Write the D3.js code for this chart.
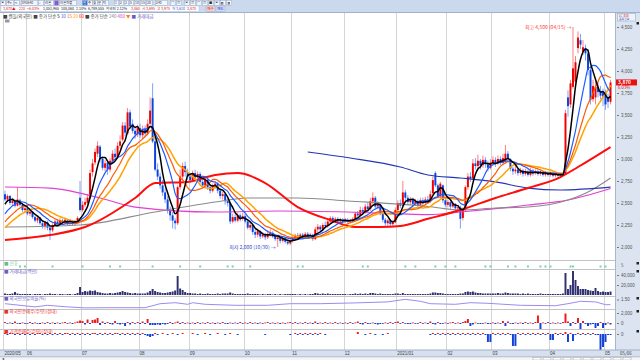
<!DOCTYPE html>
<html>
<head>
<meta charset="utf-8">
<script src="https://cdn.jsdelivr.net/npm/d3@7"></script>
<style>
  body { margin: 0; background: #fff; }
  svg { display: block; font-family: "Noto Sans CJK KR", "Noto Sans", sans-serif; }
</style>
</head>
<body>
<svg id="chart" width="640" height="360"></svg>
<script>
// daily chart 2020/05 ~ 2021/05, one row per month in every array

const monthLabels = ["2020/05", "06", "07", "08", "09", "10", "11", "12", "2021/01", "02", "03", "04", "05"];
const monthDays = [9, 22, 23, 20, 22, 19, 21, 21, 20, 18, 23, 22, 3];

const opens = [
  2600,2540,2580,2500,2520,2470,2530,2480,2420,
  2440,2380,2400,2340,2300,2330,2270,2240,2280,2220,2190,2250,2290,2260,2300,2280,2310,2270,2300,2260,2290,2560,
  2420,2480,2500,2560,2850,2960,3060,3140,3000,2900,2960,2880,2980,3060,3020,3150,3220,3380,3290,3530,3400,3320,3280,
  3350,3270,3340,3290,3400,3690,3200,2880,2800,2700,2620,2540,2420,2360,2300,2270,2680,2800,2920,2850,
  2800,2760,2840,2790,2830,2740,2700,2760,2680,2640,2690,2720,2640,2580,2600,2520,2500,2290,2340,2300,2360,2320,
  2350,2290,2220,2250,2170,2140,2180,2120,2140,2110,2150,2160,2120,2090,2110,2070,2100,2060,2040,
  2070,2100,2130,2100,2140,2110,2150,2120,2140,2090,2200,2230,2200,2250,2240,2290,2330,2300,2320,2290,2310,
  2290,2310,2290,2300,2320,2380,2360,2420,2400,2460,2430,2520,2560,2460,2480,2380,2310,2270,2300,2260,2280,
  2420,2500,2470,2620,2560,2510,2540,2490,2520,2480,2530,2500,2540,2520,2610,2840,2700,2580,2700,2530,
  2480,2510,2460,2490,2440,2450,2330,2420,2680,2800,2780,2950,2920,2980,2930,2990,2940,2900,
  2960,2990,2950,3000,2960,2970,3060,3000,2890,2860,2880,2840,2870,2830,2860,2820,2870,2840,2860,2830,2850,2820,2840,
  2820,2840,2810,2830,2810,2820,2830,3700,3620,3820,3880,4260,4350,4220,4260,4200,4010,3680,3700,3820,3770,3760,
  3760,3700,3650
];
const highs = [
  2640,2600,2590,2560,2540,2680,2550,2500,2470,
  2460,2430,2410,2360,2360,2340,2290,2300,2300,2240,2270,2310,2320,2330,2320,2330,2320,2320,2310,2310,2350,2750,
  2520,2560,2600,2880,3000,3120,3200,3160,3030,2990,2980,3010,3100,3120,3190,3270,3420,3420,3580,3560,3450,3360,3390,
  3400,3380,3380,3450,3700,3860,3230,2950,2840,2760,2660,2580,2460,2400,2330,2700,2880,2960,2970,2890,
  2830,2870,2880,2860,2850,2770,2790,2780,2710,2720,2750,2740,2670,2630,2620,2560,2520,2380,2370,2390,2380,2390,
  2370,2310,2280,2260,2200,2210,2190,2170,2160,2190,2200,2180,2140,2130,2120,2120,2110,2080,2090,
  2130,2150,2160,2160,2160,2170,2170,2160,2150,2230,2260,2250,2270,2290,2320,2350,2350,2340,2340,2330,2330,
  2330,2330,2320,2340,2400,2410,2460,2450,2490,2500,2560,2620,2580,2520,2490,2400,2330,2320,2320,2310,2450,
  2530,2540,2750,2650,2590,2570,2560,2550,2540,2560,2560,2570,2580,2640,2800,2860,2720,2740,2710,2560,
  2540,2530,2520,2500,2480,2470,2450,2700,2840,2850,3000,3010,3050,3000,3040,3020,2980,3000,
  3030,3020,3040,3030,3060,3160,3090,3010,2910,2920,2900,2900,2890,2890,2880,2900,2890,2880,2880,2870,2870,2860,2860,
  2860,2860,2850,2850,2840,2850,3560,3780,3900,4500,4170,4450,4420,4350,4300,4250,4050,3900,3880,3870,3830,3800,
  3790,3740,3900
];
const lows = [
  2520,2510,2480,2470,2450,2460,2460,2400,2390,
  2360,2350,2320,2280,2270,2250,2210,2200,2190,2080,2170,2230,2240,2250,2260,2260,2250,2250,2240,2240,2270,2400,
  2400,2450,2470,2540,2800,2930,3020,2960,2870,2860,2820,2850,2950,2990,3000,3120,3200,3260,3280,3340,3290,3230,3250,
  3240,3230,3250,3270,3380,3180,2860,2760,2660,2580,2500,2380,2300,2210,2200,2250,2650,2760,2800,2760,
  2730,2740,2770,2760,2720,2670,2680,2650,2610,2620,2660,2610,2550,2540,2480,2460,2260,2270,2280,2280,2290,2300,
  2270,2200,2190,2140,2100,2110,2090,2100,2080,2090,2120,2100,2070,2000,2040,2050,2040,2020,2020,
  2050,2080,2080,2090,2090,2100,2100,2100,2070,2080,2170,2180,2180,2210,2220,2270,2270,2280,2270,2280,2270,
  2270,2270,2270,2280,2300,2340,2340,2370,2380,2400,2410,2490,2440,2430,2360,2280,2240,2240,2230,2240,2270,
  2400,2440,2450,2520,2480,2480,2460,2470,2450,2460,2470,2480,2490,2500,2590,2680,2560,2550,2500,2450,
  2450,2430,2440,2410,2400,2210,2300,2400,2650,2740,2760,2880,2890,2880,2900,2900,2860,2880,
  2930,2910,2930,2930,2940,2950,2970,2860,2820,2830,2810,2820,2800,2810,2800,2800,2810,2820,2810,2810,2800,2800,2800,
  2800,2790,2790,2790,2790,2800,2820,3480,3580,3800,3850,4200,4250,4180,4120,3950,3620,3650,3620,3700,3680,3600,
  3560,3580,3620
];
const closes = [
  2540,2580,2500,2530,2470,2540,2480,2420,2440,
  2380,2400,2340,2300,2330,2270,2240,2280,2220,2190,2250,2290,2260,2300,2280,2310,2270,2300,2260,2290,2330,2420,
  2480,2510,2560,2840,2950,3080,3150,3000,2900,2950,2880,2980,3060,3020,3150,3200,3380,3300,3530,3370,3320,3280,3350,
  3270,3340,3290,3400,3550,3200,2880,2800,2700,2620,2540,2420,2360,2300,2270,2680,2800,2920,2850,2800,
  2760,2840,2790,2830,2740,2700,2760,2680,2640,2690,2720,2640,2580,2600,2520,2500,2290,2340,2300,2360,2320,2350,
  2290,2220,2250,2170,2140,2180,2120,2140,2110,2150,2160,2120,2090,2110,2070,2100,2060,2040,2070,
  2100,2130,2100,2140,2110,2150,2120,2140,2090,2200,2230,2200,2250,2240,2290,2330,2300,2320,2290,2310,2290,
  2310,2290,2300,2320,2380,2360,2420,2400,2460,2430,2520,2560,2460,2480,2380,2310,2270,2300,2260,2280,2420,
  2500,2470,2620,2560,2510,2540,2490,2520,2480,2530,2500,2540,2520,2600,2760,2700,2580,2720,2530,2480,
  2510,2460,2490,2440,2450,2320,2420,2680,2800,2780,2950,2920,2980,2930,2990,2940,2900,2960,
  2990,2950,3000,2960,3010,3060,3000,2890,2860,2880,2840,2870,2830,2860,2820,2870,2840,2860,2830,2850,2820,2840,2820,
  2840,2810,2830,2810,2820,2830,3520,3600,3860,4030,4100,4380,4300,4270,4200,4010,3670,3830,3820,3760,3720,3710,
  3620,3650,3870
];
// closes before the visible window, estimated from where the short MA lines start
const priorCloses = [1980,2010,2000,2040,2060,2050,2090,2120,2100,2150,2190,2230,2260,2300,2340,2390,2440,2500,2560];

// long moving averages: [day index, price]
const ma60Days = [0, 18, 32, 52, 60, 73, 84, 93, 104, 117, 130, 140, 150, 158, 169, 182, 196, 209, 222, 229, 242];
const ma60Vals = [2080, 2136, 2227, 2557, 2727, 2740, 2818, 2840, 2727, 2454, 2307, 2227, 2227, 2239, 2320, 2420, 2557, 2670, 2795, 2909, 3136];
const ma240Days = [0, 30, 60, 84, 97, 117, 137, 169, 182, 196, 209, 225, 234, 242];
const ma240Vals = [2227, 2250, 2398, 2511, 2557, 2557, 2523, 2460, 2420, 2443, 2454, 2534, 2640, 2784];
const ma480Days = [0, 18, 38, 52, 84, 110, 137, 169, 182, 209, 225, 242];
const ma480Vals = [2682, 2670, 2557, 2454, 2398, 2409, 2398, 2368, 2398, 2477, 2534, 2665];
const navyDays = [121, 138, 158, 169, 182, 196, 209, 222, 242];
const navyVals = [3080, 3011, 2909, 2818, 2784, 2739, 2670, 2648, 2680];

const priceTicks = [2000, 2250, 2500, 2750, 3000, 3250, 3500, 3750, 4000, 4250, 4500];

// 거래대금 (thousands)
const volumes = [
  3,2,2,3,6,3,2,2,2,
  2,2,1,2,2,2,1,2,2,3,2,2,1,2,2,1,2,2,1,2,4,16,
  6,8,7,9,8,9,6,5,4,3,3,4,3,4,5,6,8,6,5,4,3,4,3,
  3,3,3,5,8,12,8,6,5,4,4,5,6,7,9,38,13,10,6,4,
  4,3,3,2,3,2,2,3,2,2,2,3,2,3,3,3,5,3,2,2,2,2,
  2,3,2,2,2,2,1,2,1,2,2,1,2,1,2,1,2,2,2,
  2,2,1,2,1,2,1,2,2,4,3,2,3,2,3,2,2,2,2,2,2,
  2,1,2,2,3,2,3,2,3,2,4,4,3,2,3,2,2,2,2,2,3,
  3,2,4,2,2,2,2,2,2,2,2,2,2,3,5,5,4,4,3,2,
  2,2,2,2,2,3,3,6,7,6,7,5,4,4,3,3,3,3,
  3,3,4,3,3,5,4,3,3,3,3,2,3,2,3,2,2,2,2,3,2,2,2,
  2,2,2,2,2,3,44,12,20,48,30,18,12,12,12,10,9,8,14,8,6,7,
  6,6,7
];

// 외국인 순매수 (x100)
const foreignNet = [
  2,-1,1,-2,3,-1,-2,1,-1,
  -1,2,-2,1,-1,-2,1,-1,2,-1,1,-2,1,-1,1,2,-1,1,-2,1,3,5,
  4,-3,7,-2,6,7,10,-4,3,-2,2,-2,-3,4,-2,-3,-1,-6,2,-3,2,-1,2,
  -2,3,-2,8,-4,-4,-4,-3,-4,-2,-3,-2,2,-2,1,3,-2,2,-1,1,
  -1,1,-2,2,-1,1,-1,2,-1,1,-2,1,-1,2,-1,-2,1,-1,1,-1,2,-1,
  1,-1,2,-1,1,-2,1,-1,1,2,-1,1,-1,1,-2,1,-1,1,2,
  -1,2,-1,1,-1,2,-1,1,-2,3,-2,1,-1,2,-1,1,-1,2,-1,1,-1,
  1,-1,2,-1,1,3,-2,-3,2,-2,-1,1,-2,-3,-2,-1,1,-1,2,-1,2,
  3,-1,2,-1,-2,-2,1,-1,-1,2,-1,1,-2,3,-2,-3,2,-2,-1,1,
  -1,1,2,-1,1,-2,2,4,8,-6,-3,1,-1,-2,-1,1,-2,-1,
  1,-2,1,-1,4,-6,3,-1,-2,1,-1,1,-2,2,-1,1,-1,2,15,-12,1,-1,2,
  -1,1,-1,1,-1,2,19,3,-6,2,-2,10,-12,4,-2,-6,-3,-2,-10,-6,2,-10,
  -4,1,-3
];

// 기관 순매수 (x100)
const instNet = [
  1,-1,1,1,-1,1,-1,1,-1,
  1,-1,1,-1,1,1,-1,1,-1,1,-1,1,-1,1,-1,1,1,-1,1,-1,1,-1,
  1,-1,1,-1,1,1,-1,1,-1,1,-1,1,-1,1,1,-1,1,-1,1,-1,1,-1,1,
  -1,1,-1,-2,-3,-2,1,-1,0,1,0,-1,0,1,0,-1,0,1,0,0,
  0,1,0,-1,0,0,1,0,-1,0,0,1,0,0,-1,0,1,0,0,-1,0,0,
  0,0,0,0,0,0,0,0,-1,0,0,0,0,0,0,0,0,0,-1,
  0,1,-1,1,-1,1,-1,1,-1,1,-1,1,0,-1,0,0,0,0,0,0,0,
  0,0,0,0,0,2,0,0,-1,0,1,0,-1,0,0,-1,0,1,0,0,0,
  0,0,0,0,0,0,0,0,0,0,0,0,0,-1,1,-1,1,-1,1,-1,
  1,-1,1,-1,1,-1,1,-1,1,-1,1,-1,1,-1,1,-1,-8,-8,
  1,-1,1,-1,1,-1,1,-1,-12,-12,1,-1,1,-1,1,-1,1,-1,1,-1,1,-1,1,
  -6,-6,1,-1,1,-1,2,-8,1,-7,-1,1,-1,1,-1,1,-1,1,-1,-1,-16,-13,
  -8,-1,-1
];

// 외국인 보유비율 (%), read at a few days
const ratioDays = [0, 6, 12, 17, 25, 32, 42, 56, 62, 68, 73, 75, 80, 92, 105, 114, 126, 140, 153, 160, 166, 170, 180, 186, 193, 206, 220, 225, 230, 236, 240, 242];
const ratioVals = [1.29, 1.21, 1.13, 1.21, 1.13, 1.08, 1.09, 1.09, 1.29, 1.34, 1.26, 1.34, 1.26, 1.21, 1.21, 1.29, 1.29, 1.33, 1.38, 1.51, 1.41, 1.29, 1.26, 1.34, 1.31, 1.21, 1.19, 1.29, 1.41, 1.38, 1.24, 1.24];

// 신호 marks
const signalDays = [6, 8, 19, 31, 42, 46, 59, 70, 78, 89, 91, 98, 117, 119, 143, 145, 160, 164, 172, 176, 180, 192, 194, 201, 204, 209, 214, 216, 218, 226, 227, 238, 240];

// ---------------------------------------------------------------
const svg = d3.select("#chart");
const n = closes.length;
const plotL = 4, plotR = 611.5;

const x = d3.scaleBand().domain(d3.range(n)).range([plotL, plotR]).paddingInner(0.22);
const cx = i => x(i) + x.bandwidth() / 2;

const y = d3.scaleLinear().domain([2000, 4500]).range([247, 27]);
const yVol = d3.scaleLinear().domain([0, 40]).range([295, 275]);
const yRatio = d3.scaleLinear().domain([1.0, 1.6]).range([309.5, 297.5]);
const yFor = d3.scaleLinear().domain([0, 20]).range([323, 313]);
const yInst = d3.scaleLinear().domain([0, -16]).range([334, 350]);

const monthStarts = d3.cumsum([0, ...monthDays.slice(0, -1)]);
const gridX = d => Math.round(x(d) - 0.6) + 0.5;

// toolbar band
svg.append("rect").attr("x", 0).attr("y", 0).attr("width", 640).attr("height", 12.5).attr("fill", "#cad9ee");
svg.append("line").attr("x1", 0).attr("x2", 640).attr("y1", 12.5).attr("y2", 12.5).attr("stroke", "#9fb2cc");

// vertical grid
svg.append("g").selectAll("line").data(monthStarts).join("line")
  .attr("x1", gridX).attr("x2", gridX)
  .attr("y1", 13).attr("y2", 350)
  .attr("stroke", "#d5d5d5");

// panel separators
svg.append("g").selectAll("line").data([260.5, 269.5, 296.5, 309.5, 329.5]).join("line")
  .attr("x1", 0).attr("x2", 615).attr("y1", d => d).attr("y2", d => d)
  .attr("stroke", "#c4c4c4");

// ---- price panel ----
const up = i => closes[i] >= opens[i];
const candles = svg.append("g");
candles.selectAll("line").data(d3.range(n)).join("line")
  .attr("x1", cx).attr("x2", cx)
  .attr("y1", i => y(highs[i])).attr("y2", i => y(lows[i]))
  .attr("stroke", i => up(i) ? "#ff7070" : "#6f95ff")
  .attr("stroke-width", 0.9);
candles.selectAll("rect").data(d3.range(n)).join("rect")
  .attr("x", i => x(i)).attr("width", x.bandwidth())
  .attr("y", i => y(Math.max(opens[i], closes[i])))
  .attr("height", i => Math.max(1, Math.abs(y(opens[i]) - y(closes[i]))))
  .attr("fill", i => up(i) ? "#f20000" : "#0a44dc");

// read long averages
const ptLine = d3.line().x(d => cx(d[0])).y(d => y(d[1])).curve(d3.curveMonotoneX);
[[ma480Days, ma480Vals, "#e33fd0", 1.2],
 [ma240Days, ma240Vals, "#8a8a8a", 1.1],
 [navyDays, navyVals, "#2436b4", 1.2],
 [ma60Days, ma60Vals, "#ff0c0c", 2]].forEach(([d, v, c, w]) => {
  svg.append("path").datum(d3.zip(d, v)).attr("d", ptLine)
    .attr("fill", "none").attr("stroke", c).attr("stroke-width", w);
});

// short averages from closes
const allCloses = priorCloses.concat(closes);
function sma(p) {
  const off = priorCloses.length;
  return closes.map((c, i) => d3.mean(allCloses.slice(off + i - p + 1, off + i + 1)));
}
const maLine = d3.line().x((d, i) => cx(i)).y(d => y(d)).curve(d3.curveMonotoneX);
[[20, "#ffa200", 1.5], [15, "#ff5a00", 1.2], [10, "#1d5cff", 1.2], [5, "#000000", 1.5]].forEach(([p, c, w]) => {
  svg.append("path").datum(sma(p)).attr("d", maLine)
    .attr("fill", "none").attr("stroke", c).attr("stroke-width", w);
});

// high / low marks
const hiIdx = d3.maxIndex(highs), loIdx = d3.minIndex(lows);
svg.append("text").attr("x", cx(hiIdx) - 1.5).attr("y", y(highs[hiIdx]) + 2)
  .attr("text-anchor", "end").attr("font-size", 5).attr("fill", "#ff3b3b")
  .text("최고 4,500 (04/15) →");
svg.append("text").attr("x", cx(loIdx) - 2).attr("y", y(lows[loIdx]) + 2)
  .attr("text-anchor", "end").attr("font-size", 5).attr("fill", "#3448d0")
  .text("최저 2,000 (10/30) →");

// ---- signal panel ----
svg.append("g").selectAll("rect").data(signalDays).join("rect")
  .attr("x", i => cx(i) - 1).attr("y", 265.5).attr("width", 2).attr("height", 2)
  .attr("fill", "#7fd0a6");

// ---- volume ----
svg.append("g").selectAll("rect").data(volumes).join("rect")
  .attr("x", (d, i) => x(i)).attr("width", x.bandwidth())
  .attr("y", d => yVol(d)).attr("height", d => yVol(0) - yVol(d))
  .attr("fill", "#2f2f72");

// ---- foreign ownership ratio ----
svg.append("path").datum(d3.zip(ratioDays, ratioVals))
  .attr("d", d3.line().x(d => cx(d[0])).y(d => yRatio(d[1])))
  .attr("fill", "none").attr("stroke", "#9a8cf0").attr("stroke-width", 1);

// ---- foreign net buy ----
svg.append("g").selectAll("rect").data(foreignNet).join("rect")
  .attr("x", (d, i) => x(i)).attr("width", x.bandwidth())
  .attr("y", d => Math.min(yFor(d), yFor(0)))
  .attr("height", d => Math.max(0.8, Math.abs(yFor(d) - yFor(0))))
  .attr("fill", d => d >= 0 ? "#f01818" : "#1240d8");

// ---- institution net buy ----
svg.append("g").selectAll("rect").data(instNet.map((v, i) => [i, v]).filter(d => d[1] !== 0)).join("rect")
  .attr("x", d => x(d[0])).attr("width", x.bandwidth())
  .attr("y", d => Math.min(yInst(d[1]), yInst(0)))
  .attr("height", d => Math.max(0.8, Math.abs(yInst(d[1]) - yInst(0))))
  .attr("fill", d => d[1] > 0 ? "#f01818" : "#1240d8");

// panel titles
const titles = [
  [264.5, "#5fbf8c", "■ 신호"],
  [272.5, "#6a5ac8", "■ 거래대금(백만)"],
  [300, "#6a5ac8", "■ 외국인보유비율(%)"],
  [313, "#e63030", "■ 외국인순매수(수량)(상대)"],
  [333, "#e63030", "■ 기관순매수(수량)(상대)"]
];
svg.append("g").selectAll("text").data(titles).join("text")
  .attr("x", 4).attr("y", d => d[0]).attr("font-size", 4.5)
  .attr("fill", d => d[1]).text(d => d[2]);

// ---- right strip ----
svg.append("rect").attr("x", 615).attr("y", 13).attr("width", 25).attr("height", 344).attr("fill", "#dbe4f0");
svg.append("line").attr("x1", 615.5).attr("x2", 615.5).attr("y1", 13).attr("y2", 357).attr("stroke", "#a9b6c9");

function styleAxis(g) {
  g.select(".domain").remove();
  g.selectAll("line").attr("stroke", "#777");
  g.selectAll("text").attr("font-size", 4.5).attr("fill", "#555");
}
svg.append("g").attr("transform", "translate(617,0)")
  .call(d3.axisRight(y).tickValues(priceTicks).tickSize(2).tickPadding(2).tickFormat(d3.format(",")))
  .call(styleAxis);
svg.append("g").attr("transform", "translate(617,0)")
  .call(d3.axisRight(yVol).tickValues([20, 40]).tickSize(2).tickPadding(2).tickFormat(d => d3.format(",")(d * 1000)))
  .call(styleAxis);
svg.append("g").attr("transform", "translate(617,0)")
  .call(d3.axisRight(yRatio).tickValues([1.5]).tickSize(2).tickPadding(2).tickFormat(d3.format(".2f")))
  .call(styleAxis);
svg.append("g").attr("transform", "translate(617,0)")
  .call(d3.axisRight(yFor).tickValues([0, 20]).tickSize(2).tickPadding(2).tickFormat(d => d3.format(",")(d * 100)))
  .call(styleAxis);
svg.append("g").attr("transform", "translate(617,0)")
  .call(d3.axisRight(yInst).tickValues([0]).tickSize(2).tickPadding(2))
  .call(styleAxis);
svg.append("text").attr("x", 621).attr("y", 266.5).attr("font-size", 4.5).attr("fill", "#555").text("5");

// panel corner marks
svg.append("g").selectAll("rect").data([22, 262, 270, 297, 310, 330]).join("rect")
  .attr("x", 636.5).attr("y", d => d).attr("width", 2.5).attr("height", 2.5).attr("fill", "#222");

// current price box
const last = n - 1;
svg.append("rect").attr("x", 616).attr("y", y(closes[last]) - 3).attr("width", 21).attr("height", 6).attr("fill", "#e81010");
svg.append("text").attr("x", 618).attr("y", y(closes[last]) + 1.8).attr("font-size", 4.8)
  .attr("fill", "#fff").attr("font-weight", "bold").text(d3.format(",")(closes[last]));
svg.append("text").attr("x", 618).attr("y", y(closes[last]) + 7).attr("font-size", 4.3)
  .attr("fill", "#e81010").text("6.03%");

// badge top right
svg.append("rect").attr("x", 617.5).attr("y", 13.5).attr("width", 18).attr("height", 7.5).attr("fill", "#eef2fa").attr("stroke", "#8d9fc0").attr("stroke-width", 0.5);
svg.append("text").attr("x", 619).attr("y", 16.6).attr("font-size", 3).attr("fill", "#e02020").text("LC 조회");
svg.append("text").attr("x", 619).attr("y", 20.3).attr("font-size", 2.8).attr("fill", "#3050c0").text("종목정보");

// ---- bottom axis band ----
svg.append("rect").attr("x", 0).attr("y", 350).attr("width", 640).attr("height", 7).attr("fill", "#d6e0ee");
svg.append("line").attr("x1", 0).attr("x2", 640).attr("y1", 350).attr("y2", 350).attr("stroke", "#9fb0c8");
svg.append("line").attr("x1", 0).attr("x2", 640).attr("y1", 357).attr("y2", 357).attr("stroke", "#9fb0c8");
const xAxis = svg.append("g").attr("transform", "translate(0,350)")
  .call(d3.axisBottom(x).tickValues(monthStarts).tickSize(0).tickPadding(1.5).tickFormat((d, k) => monthLabels[k]));
xAxis.select(".domain").remove();
xAxis.selectAll("text").attr("text-anchor", "start").attr("x", -0.5).attr("font-size", 4.5).attr("fill", "#444");
svg.append("text").attr("x", 620).attr("y", 355).attr("font-size", 4.5).attr("fill", "#444").text("05/06");

// scrollbar row
svg.append("rect").attr("x", 0).attr("y", 357.5).attr("width", 640).attr("height", 2.5).attr("fill", "#f4f4f4");
svg.append("text").attr("x", 2).attr("y", 360).attr("font-size", 4).attr("fill", "#333").text("◂");
svg.append("g").selectAll("rect").data(d3.range(10)).join("rect")
  .attr("x", d => 533 + d * 10).attr("y", 357.5).attr("width", 8).attr("height", 2.5)
  .attr("fill", "#fff").attr("stroke", "#888").attr("stroke-width", 0.4);

// ---- toolbar row 1: buttons ----
const btns = [["▣", 0, 5], ["주▾", 6, 7], ["↻", 14, 5], ["093640", 21, 16], ["⌕", 38, 5], ["라온", 44, 9],
  ["", 54, 4], ["라온피플", 59, 17], ["일", 82, 5], ["주", 87, 5], ["월", 92, 5], ["분", 97, 5], ["틱", 102, 6],
  ["1", 114, 4], ["2", 119, 4], ["3", 124, 4], ["5", 129, 4], ["10", 134, 5], ["15", 140, 5], ["30", 146, 6],
  ["240", 155, 12], ["▤", 170, 5], ["▥", 176, 5], ["▣", 184, 5], ["▦", 190, 5], ["▤", 196, 5], ["▥", 202, 5], ["■", 208, 5], ["▣", 214, 5], ["◧", 220, 5], ["◨", 226, 5]];
const bt = svg.append("g").selectAll("g").data(btns).join("g");
bt.append("rect").attr("x", d => d[1] + 0.5).attr("y", 0.5).attr("width", d => d[2]).attr("height", 4.8)
  .attr("fill", (d, i) => i === 6 ? "#8a5ad0" : i === 8 ? "#2f6fd8" : "#f4f7fc").attr("stroke", "#8ea2c0").attr("stroke-width", 0.4);
bt.append("text").attr("x", d => d[1] + 1.1).attr("y", 4.2).attr("font-size", 3.3)
  .attr("fill", (d, i) => i === 8 ? "#fff" : "#333").text(d => d[0]);

// ---- toolbar row 2: quote ----
const quote = [[3, "#e02020", "3,870▲"], [19, "#e02020", "220"], [27, "#e02020", "+6.03%"], [43, "#222", "1,051,965"],
  [61, "#222", "108,060"], [76, "#222", "2.10%"], [88, "#222", "6,789,555"], [106, "#222", "외국인 2.12%"],
  [131, "#e02020", "3,860"], [142, "#e02020", "시 3,695"], [157, "#e02020", "고 3,975"], [172, "#3050d0", "저 3,610"], [187, "#e02020", "3,870"]];
svg.append("rect").attr("x", 1).attr("y", 6).attr("width", 198).attr("height", 5.5).attr("fill", "#fff").attr("stroke", "#a8b8cf").attr("stroke-width", 0.4);
svg.append("g").selectAll("text").data(quote).join("text")
  .attr("x", d => d[0]).attr("y", 10.3).attr("font-size", 3.6).attr("fill", d => d[1]).text(d => d[2]);
[["매수", 206, "#f3d4d4", "#d01010"], ["매도", 216, "#d6def5", "#1030c0"]].forEach(([t, bx, bg, fg]) => {
  svg.append("rect").attr("x", bx).attr("y", 6).attr("width", 9).attr("height", 5.5).attr("fill", bg).attr("stroke", "#8ea2c0").attr("stroke-width", 0.4);
  svg.append("text").attr("x", bx + 1.2).attr("y", 10.3).attr("font-size", 3.5).attr("fill", fg).text(t);
});

// ---- legend row ----
const legend = svg.append("text").attr("x", 3).attr("y", 17.5).attr("font-size", 4.5);
[["■ 캔들(외국인) ", "#444"], ["■ 종가 단순 ", "#444"], ["5 ", "#000"], ["10 ", "#1d5cff"], ["15 ", "#ff5a00"], ["20 ", "#ffa200"], ["60 ", "#ff0c0c"],
 ["■ 종가 단순 ", "#444"], ["240 ", "#8a8a8a"], ["480 ", "#e33fd0"], ["▼ ", "#ff8800"], ["■ 거래대금", "#6a5ac8"]]
  .forEach(([t, c]) => legend.append("tspan").attr("fill", c).text(t));
svg.append("rect").attr("x", 5).attr("y", 19.5).attr("width", 4.5).attr("height", 3).attr("fill", "#9a9a9a");
</script>
</body>
</html>
